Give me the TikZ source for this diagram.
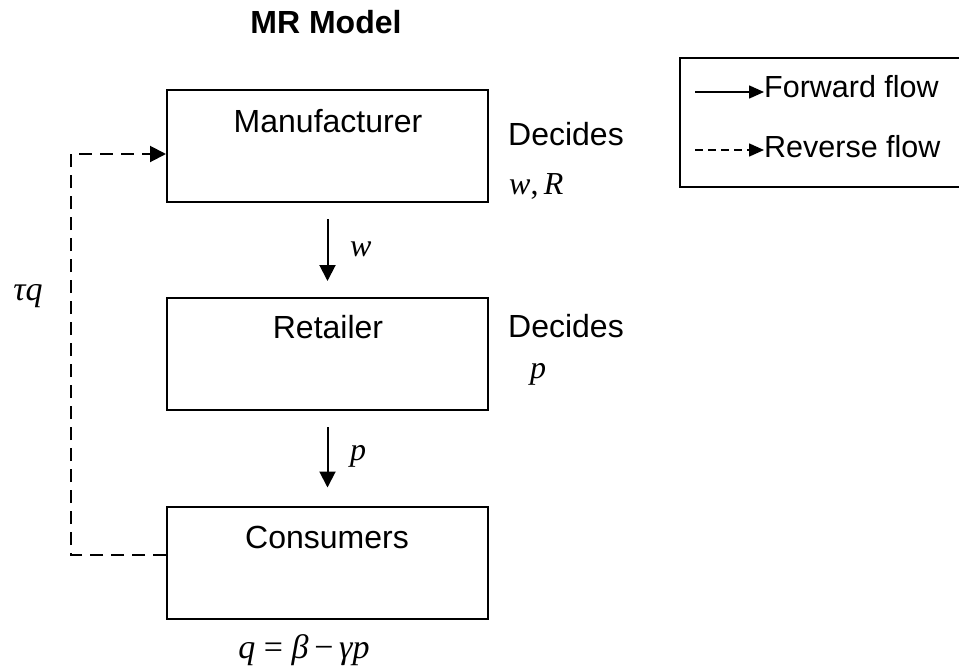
\documentclass[tikz,border=0pt]{standalone}
\usepackage{fontspec}
\setmainfont{Liberation Sans}
\newfontfamily\tms{Liberation Serif}
\usetikzlibrary{arrows.meta}
\tikzset{
  box/.style={draw, line width=2pt, minimum width=321pt, minimum height=112pt, inner sep=0pt},
  txt/.style={font=\fontsize{32}{36}\selectfont, inner sep=0pt, anchor=base},
  ltxt/.style={font=\fontsize{30.5}{36}\selectfont, inner sep=0pt, anchor=base west},
  mth/.style={font=\fontsize{32}{36}\selectfont\tms\itshape, inner sep=0pt, anchor=base},
  fwd/.style={line width=2pt, -{Triangle[length=16pt,width=16pt]}},
  rev/.style={line width=2pt, dash pattern=on 13pt off 8pt, -{Triangle[length=16pt,width=16pt]}},
  lfwd/.style={line width=1.6pt, -{Triangle[length=15pt,width=13pt]}},
  lrev/.style={line width=1.6pt, dash pattern=on 8pt off 5pt, -{Triangle[length=15pt,width=13pt]}}
}
\begin{document}
\begin{tikzpicture}[x=1pt,y=-1pt]
\clip (0,0) rectangle (959,672);
\fill[white] (0,0) rectangle (959,672);
% title
\node[txt, font=\fontsize{32}{36}\selectfont\bfseries] (title) at (326,33) {MR Model};
% boxes
\node[box] (man) at (327.5,146) {};
\node[box] (ret) at (327.5,354) {};
\node[box] (cons) at (327.5,562.5) {};
\node[txt] (manT) at (328,132) {Manufacturer};
\node[txt] (retT) at (328,338) {Retailer};
\node[txt] (consT) at (327,548) {Consumers};
% decisions
\node[txt, anchor=base west] (dec1) at (508,145) {Decides};
\node[mth, anchor=base west] (dec1v) at (509,194) {w{\upshape ,}\,R};
\node[txt, anchor=base west] (dec2) at (508,337) {Decides};
\node[mth, anchor=base west] (dec2v) at (530,378) {p};
% forward arrows
\draw[fwd] ([yshift=-16pt]man.south) -- ([yshift=16pt]ret.north);
\node[mth, anchor=base west] (wl) at (350,256) {w};
\draw[fwd] ([yshift=-16pt]ret.south) -- ([yshift=18pt]cons.north);
\node[mth, anchor=base west] (pl) at (350,460) {p};
% reverse flow
\draw[rev] ([yshift=7.5pt]cons.west) -- ++(-95,0) |- ([yshift=-8pt]man.west);
\node[mth, font=\fontsize{34}{38}\selectfont\tms\itshape] (tq) at (28,300) {τq};
% demand
\node[mth, font=\fontsize{34}{38}\selectfont\tms\itshape] (dem) at (304,658) {q {\upshape =} β\,{\upshape −}\,γp};
% legend
\node[draw, line width=2pt, minimum width=290pt, minimum height=129pt, inner sep=0pt] (leg) at (825,122.5) {};
\node[ltxt] (fwdT) at (764,97) {Forward flow};
\node[ltxt] (revT) at (764,157) {Reverse flow};
\coordinate (lf) at (695,92);
\coordinate (lr) at (695,150);
\draw[lfwd] (lf) -- (lf -| fwdT.west);
\draw[lrev] (lr) -- (lr -| revT.west);
\end{tikzpicture}
\end{document}
